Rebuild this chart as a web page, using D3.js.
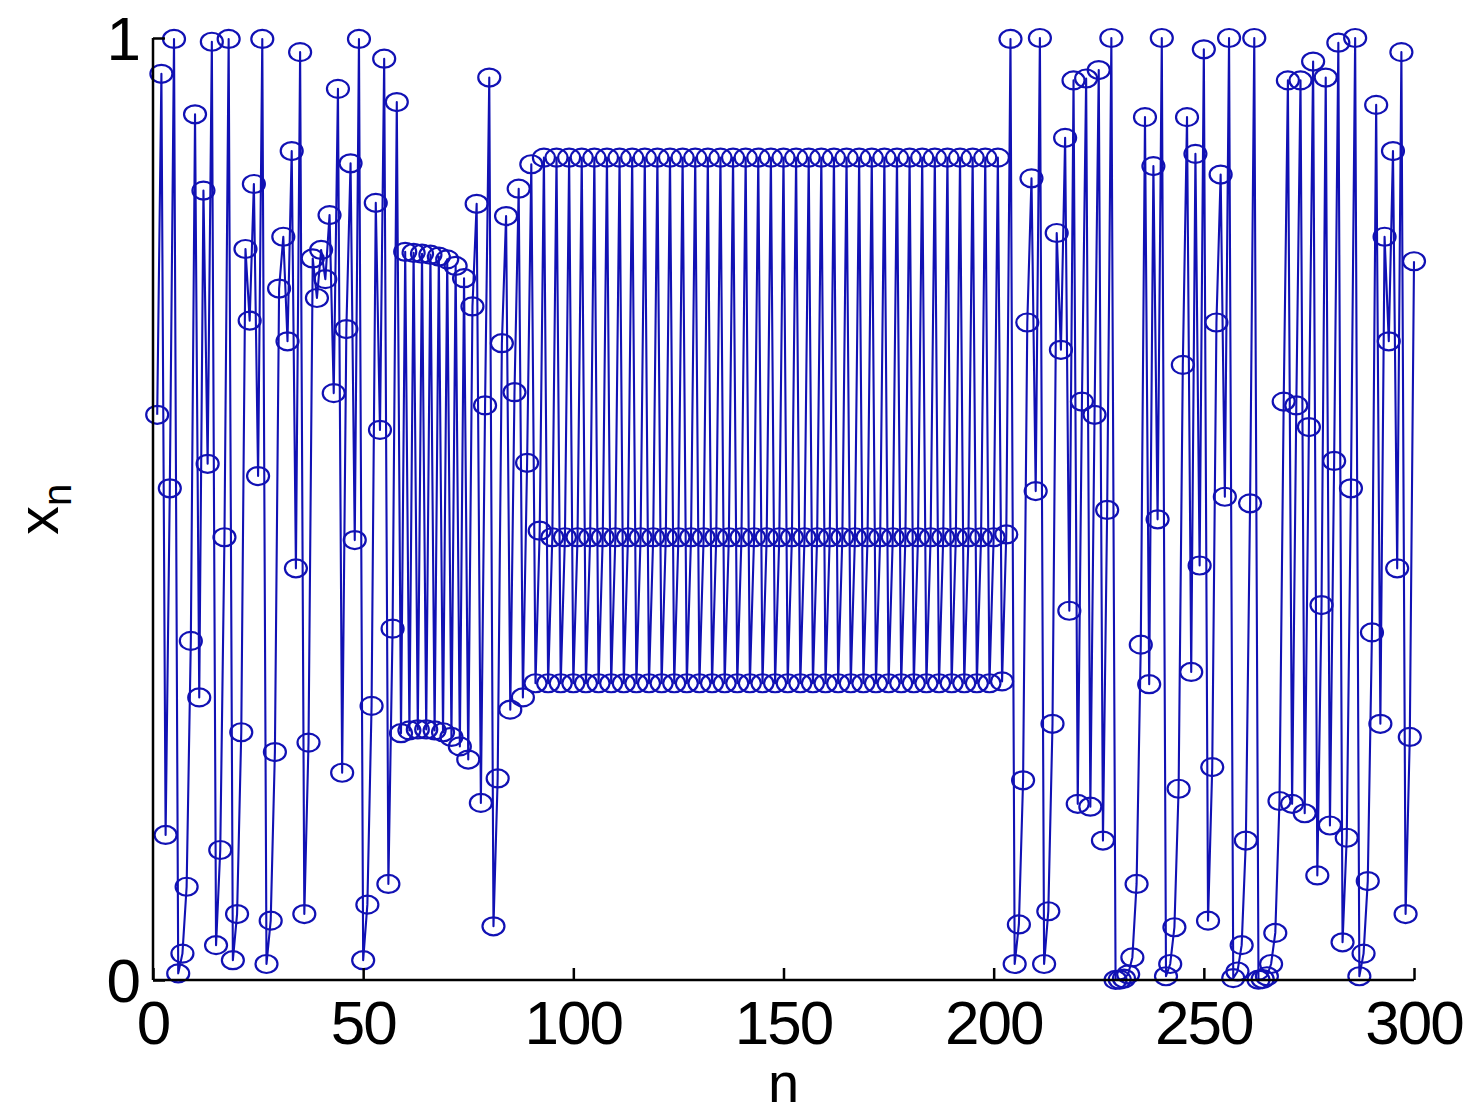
<!DOCTYPE html>
<html>
<head>
<meta charset="utf-8">
<script src="https://cdn.jsdelivr.net/npm/d3@7"></script>
<style>
  body { margin: 0; background: #fff; }
</style>
</head>
<body>
<div id="chart"></div>
<script>
// Tick values of the two axes
const xTicks = [0, 50, 100, 150, 200, 250, 300];
const yTicks = [0, 1];

// x_n, one value per step n = 1 .. 300
const xn = [
  0.600, 0.962, 0.154, 0.522, 0.999, 0.007, 0.028, 0.099, 0.360, 0.919,
  0.300, 0.838, 0.548, 0.996, 0.037, 0.138, 0.470, 0.999, 0.021, 0.070,
  0.263, 0.776, 0.700, 0.845, 0.535, 0.999, 0.017, 0.063, 0.242, 0.734,
  0.789, 0.678, 0.880, 0.437, 0.985, 0.070, 0.252, 0.766, 0.724, 0.775,
  0.744, 0.812, 0.623, 0.946, 0.220, 0.691, 0.867, 0.467, 0.999, 0.021,
  0.080, 0.291, 0.825, 0.584, 0.978, 0.102, 0.373, 0.932, 0.262, 0.773,
  0.265, 0.772, 0.266, 0.771, 0.266, 0.770, 0.265, 0.768, 0.263, 0.765,
  0.258, 0.758, 0.248, 0.745, 0.234, 0.715, 0.824, 0.188, 0.610, 0.958,
  0.057, 0.214, 0.676, 0.811, 0.287, 0.624, 0.840, 0.300, 0.549, 0.866,
  0.315, 0.477,
  // the long period-3 stretch
  0.873, 0.315, 0.470, 0.873, 0.315, 0.470, 0.873, 0.315, 0.470,
  0.873, 0.315, 0.470, 0.873, 0.315, 0.470, 0.873, 0.315, 0.470,
  0.873, 0.315, 0.470, 0.873, 0.315, 0.470, 0.873, 0.315, 0.470,
  0.873, 0.315, 0.470, 0.873, 0.315, 0.470, 0.873, 0.315, 0.470,
  0.873, 0.315, 0.470, 0.873, 0.315, 0.470, 0.873, 0.315, 0.470,
  0.873, 0.315, 0.470, 0.873, 0.315, 0.470, 0.873, 0.315, 0.470,
  0.873, 0.315, 0.470, 0.873, 0.315, 0.470, 0.873, 0.315, 0.470,
  0.873, 0.315, 0.470, 0.873, 0.315, 0.470, 0.873, 0.315, 0.470,
  0.873, 0.315, 0.470, 0.873, 0.315, 0.470, 0.873, 0.315, 0.470,
  0.873, 0.315, 0.470, 0.873, 0.315, 0.470, 0.873, 0.315, 0.470,
  0.873, 0.315, 0.470, 0.873, 0.315, 0.470, 0.873, 0.315, 0.470,
  0.873, 0.315, 0.470, 0.873, 0.315, 0.470, 0.873, 0.315, 0.470,
  0.873,
  0.317, 0.473, 0.999, 0.017, 0.059, 0.212, 0.698, 0.851, 0.519,
  1.000, 0.017, 0.073, 0.272, 0.793, 0.669, 0.894, 0.392, 0.955, 0.187,
  0.614, 0.957, 0.184, 0.600, 0.966, 0.148, 0.499, 1.000, 0.0001, 0.0004,
  0.0015, 0.006, 0.024, 0.102, 0.356, 0.916, 0.314, 0.864, 0.489, 1.000,
  0.004, 0.017, 0.056, 0.203, 0.653, 0.916, 0.327, 0.877, 0.440, 0.988,
  0.063, 0.226, 0.698, 0.855, 0.513, 1.000, 0.002, 0.009, 0.037, 0.148,
  0.506, 1.000, 0.0003, 0.001, 0.004, 0.017, 0.050, 0.190, 0.614, 0.955,
  0.187, 0.610, 0.955, 0.177, 0.587, 0.975, 0.111, 0.398, 0.958, 0.164,
  0.551, 0.995, 0.040, 0.151, 0.522, 1.000, 0.004, 0.028, 0.105, 0.369,
  0.929, 0.272, 0.789, 0.678, 0.880, 0.437, 0.985, 0.070, 0.258, 0.763
];
const steps = d3.range(1, xn.length + 1);
const points = steps.map((n, i) => ({ n: n, v: xn[i] }));

const width = 1469;
const height = 1115;
const blue = "#1111b4";
const font = "'Liberation Sans', Arial, sans-serif";

const svg = d3.select("#chart")
  .append("svg")
    .attr("width", width)
    .attr("height", height)
    .style("background", "#fff");

// Scales: the axis box runs from n = 0 to 300 and x_n = 0 to 1
const x = d3.scaleLinear().domain([0, 300]).range([153, 1414]);
const y = d3.scaleLinear().domain([0, 1]).range([980, 38]);

// The line through all the points
const line = d3.line()
  .x(d => x(d.n))
  .y(d => y(d.v));

svg.append("path")
  .datum(points)
  .attr("fill", "none")
  .attr("stroke", blue)
  .attr("stroke-width", 2.1)
  .attr("stroke-linejoin", "round")
  .attr("d", line);

// Circle markers, open
svg.append("g")
  .selectAll("ellipse")
  .data(points)
  .join("ellipse")
    .attr("cx", d => x(d.n))
    .attr("cy", d => y(d.v))
    .attr("rx", 11)
    .attr("ry", 9)
    .attr("fill", "none")
    .attr("stroke", blue)
    .attr("stroke-width", 2.2);

// Axes (box off, ticks point inward)
const xAxis = d3.axisTop(x)
  .tickValues(xTicks)
  .tickSize(12)
  .tickFormat("");
svg.append("g")
  .attr("transform", `translate(0,${y(0)})`)
  .call(xAxis)
  .call(g => g.selectAll("line, path").attr("stroke", "#000").attr("stroke-width", 2.5))
  .call(g => g.select(".domain").attr("d", `M${x(0)},0H${x(300)}`));

const yAxis = d3.axisRight(y)
  .tickValues(yTicks)
  .tickSize(12)
  .tickFormat("");
svg.append("g")
  .attr("transform", `translate(${x(0)},0)`)
  .call(yAxis)
  .call(g => g.selectAll("line, path").attr("stroke", "#000").attr("stroke-width", 2.5))
  .call(g => g.select(".domain").attr("d", `M0,${y(1)}V${y(0)}`));

// Tick labels
svg.append("g")
  .selectAll("text")
  .data(xTicks)
  .join("text")
    .attr("x", d => x(d))
    .attr("y", 1044)
    .attr("text-anchor", "middle")
    .attr("font-family", font)
    .attr("font-size", 62)
    .attr("letter-spacing", -2)
    .attr("fill", "#000")
    .text(d => d);

svg.append("g")
  .selectAll("text")
  .data(yTicks)
  .join("text")
    .attr("x", 141)
    .attr("y", d => y(d) + 22)
    .attr("text-anchor", "end")
    .attr("font-family", font)
    .attr("font-size", 62)
    .attr("fill", "#000")
    .text(d => d);

// Axis titles
svg.append("text")
  .attr("x", x(150))
  .attr("y", 1102)
  .attr("text-anchor", "middle")
  .attr("font-family", font)
  .attr("font-size", 56)
  .attr("fill", "#000")
  .text("n");

const yLabel = svg.append("text")
  .attr("transform", `translate(58,${y(0.5) + 26}) rotate(-90)`)
  .attr("font-family", font)
  .attr("font-size", 58)
  .attr("fill", "#000");
yLabel.append("tspan").text("x");
yLabel.append("tspan")
  .attr("font-size", 40)
  .attr("dy", 13)
  .text("n");
</script>
</body>
</html>
